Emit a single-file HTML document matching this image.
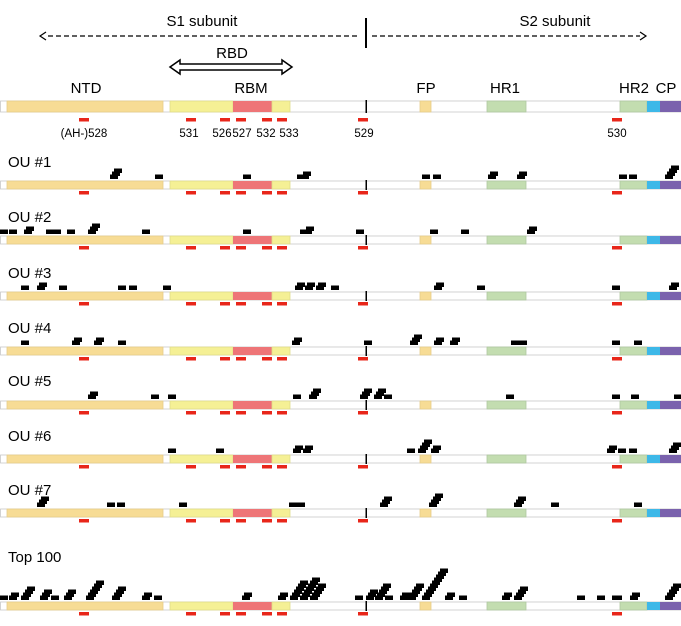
<!DOCTYPE html>
<html><head><meta charset="utf-8"><style>
html,body{margin:0;padding:0;background:#fff;}
svg{display:block;font-family:"Liberation Sans",sans-serif;}
</style></head><body>
<svg id="s" width="681" height="626" viewBox="0 0 681 626" xmlns="http://www.w3.org/2000/svg">
<rect width="681" height="626" fill="#fff"/>
<g font-size="15" fill="#000" text-anchor="middle">
<text x="202" y="26">S1 subunit</text>
<text x="555" y="26">S2 subunit</text>
<text x="232" y="58">RBD</text>
<text x="86" y="93">NTD</text>
<text x="251" y="93">RBM</text>
<text x="426" y="93">FP</text>
<text x="505" y="93">HR1</text>
<text x="634" y="93">HR2</text>
<text x="666" y="93">CP</text>
</g>
<g stroke="#000" stroke-width="1.2" fill="none">
<line x1="48" y1="36" x2="360" y2="36" stroke-dasharray="5,3"/>
<polyline points="46,32 40,36 46,40"/>
<line x1="372" y1="36" x2="640" y2="36" stroke-dasharray="5,3"/>
<polyline points="640,32 646,36 640,40"/>
<line x1="366" y1="18" x2="366" y2="48" stroke-width="2"/>
<polygon points="170,67 180,60 180,64 282,64 282,60 292,67 282,74 282,70 180,70 180,74" stroke-width="1.5"/>
</g>
<g font-size="11.5" fill="#000" text-anchor="middle">
<text x="84" y="137">(AH-)528</text>
<text x="189" y="137">531</text>
<text x="222" y="137">526</text>
<text x="242" y="137">527</text>
<text x="266" y="137">532</text>
<text x="289" y="137">533</text>
<text x="364" y="137">529</text>
<text x="617" y="137">530</text>
</g>
<g font-size="15" fill="#000">
<text x="8" y="167">OU #1</text>
<text x="8" y="222">OU #2</text>
<text x="8" y="278">OU #3</text>
<text x="8" y="333">OU #4</text>
<text x="8" y="386">OU #5</text>
<text x="8" y="441">OU #6</text>
<text x="8" y="495">OU #7</text>
<text x="8" y="562">Top 100</text>
</g>
<g id="g"></g>
</svg>
<script>
var g=document.getElementById('g');var NS='http://www.w3.org/2000/svg';
function R(x,y,w,h,f,st){var r=document.createElementNS(NS,'rect');r.setAttribute('x',x);r.setAttribute('y',y);r.setAttribute('width',w);r.setAttribute('height',h);r.setAttribute('fill',f);if(st){r.setAttribute('stroke',st);r.setAttribute('stroke-width','0.8');}g.appendChild(r);}
function bar(y,h,rd){
R(0.5,y,680,h,'#fff','#c8c8c8');
R(7,y,156,h,'#f7dc95','#e6cc8a');
R(170,y,63,h,'#f5f095','#e0dc8a');
R(233,y,39,h,'#ee7577');
R(272,y,18,h,'#f5f095','#e0dc8a');
R(420,y,11,h,'#f7dc95','#e6cc8a');
R(487,y,39,h,'#c3ddb0','#b0c8a0');
R(620,y,27,h,'#c3ddb0','#b0c8a0');
R(647,y,13,h,'#3db8e8');
R(660,y,21,h,'#7a62ad');
R(365.5,y-1,1.5,h+2,'#000');
[79,186,220,236,262,277,358,612].forEach(function(x){R(x,y+h+rd,10,3.5,'#e8261a');});
}
bar(101,11,6);
var rows=[
[181,[[110,3],[155,1],[243,1],[297,2,12],[422,1],[433,1],[488,2],[517,2],[619,1],[629,1],[665,4]]],
[236,[[0,1],[9,1],[24,2],[46,1,15],[67,1],[88,3],[142,1],[243,1],[300,2,12],[356,1],[430,1],[461,1],[527,2]]],
[292,[[21,1],[37,2],[59,1],[118,1],[129,1],[163,1],[295,2],[305,2],[316,2],[331,1],[434,2],[477,1],[612,1],[669,2]]],
[347,[[21,1],[72,2],[94,2],[118,1],[292,2],[364,1],[410,3],[434,2],[450,2],[511,1,16],[612,1],[634,1]]],
[401,[[88,2],[151,1],[168,1],[293,1],[309,3],[360,3],[374,3],[384,1],[506,1],[612,1],[631,1],[674,1]]],
[455,[[168,1],[216,1],[293,2],[303,2],[407,1],[418,4],[431,2],[607,2],[618,1],[629,1],[669,3]]],
[509,[[37,3],[107,1],[117,1],[179,1],[289,1,16],[380,3],[429,4],[514,3],[551,1],[634,1]]],
[602,[[0,1],[9,2],[21,4],[40,3],[51,1],[64,3],[86,6],[112,4],[142,2],[154,1],[242,2],[278,2],[290,6],[300,7],[310,5],[355,1],[366,3],[375,5],[385,1],[400,2],[408,5],[422,10],[445,2],[459,1],[502,2],[514,4],[577,1],[597,1],[612,1,10],[630,2],[665,5]]]
];
rows.forEach(function(r){var y=r[0];bar(y,8,2);
r[1].forEach(function(m){var x=m[0],n=m[1],w=m[2]||8;
for(var i=0;i<n;i++){R(i==0?x:x+w-8+2*i,y-6.5-3*i,i==0?w:8,4.5,'#000');}
});});
</script>
</body></html>
